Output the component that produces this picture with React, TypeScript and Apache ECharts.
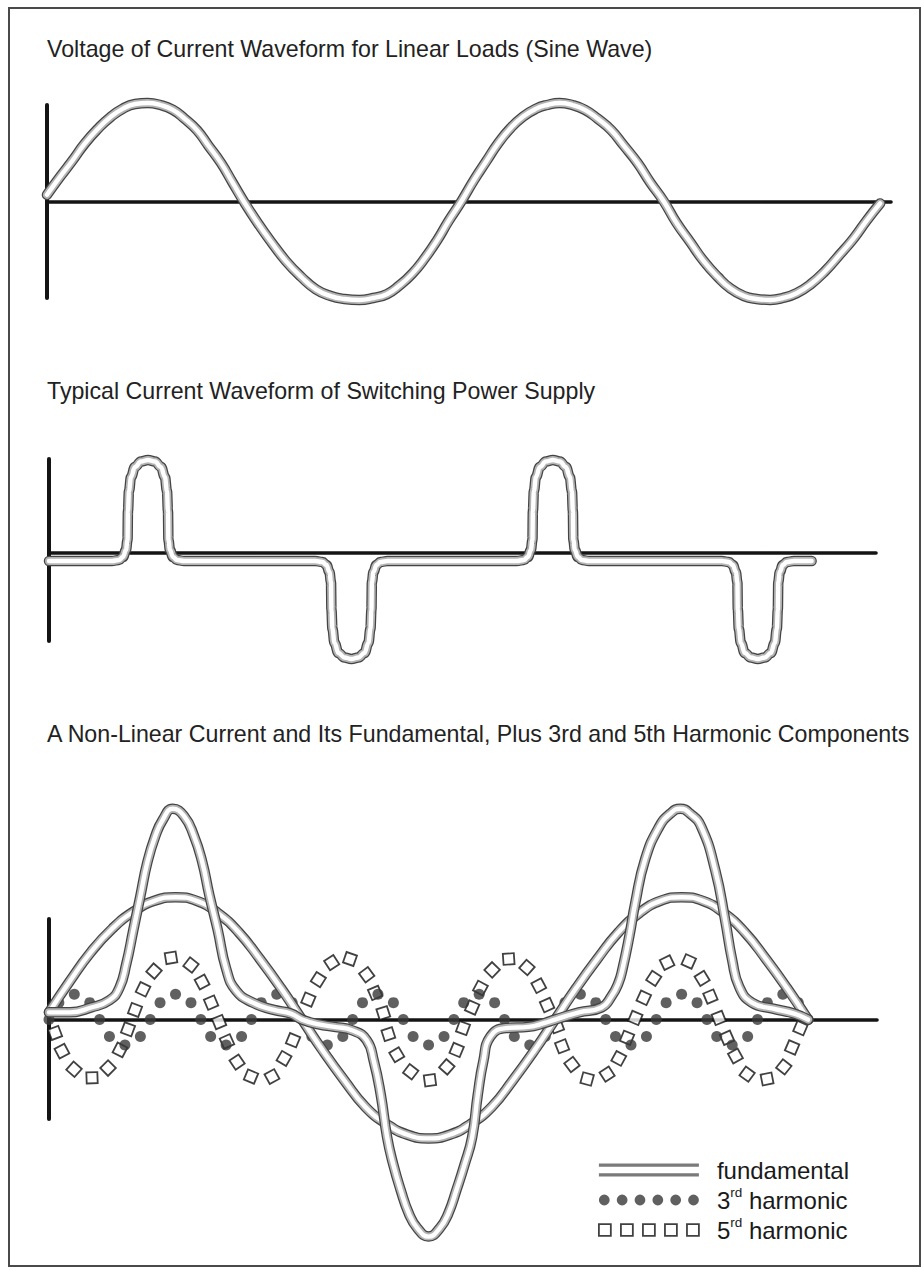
import React, { useEffect, useRef } from 'react';
import * as echarts from 'echarts';

const FONT = "'Liberation Sans', Arial, Helvetica, sans-serif";

// ---------- titles ----------
const panelTitles = [
  'Voltage of Current Waveform for Linear Loads (Sine Wave)',
  'Typical Current Waveform of Switching Power Supply',
  'A Non-Linear Current and Its Fundamental, Plus 3rd and 5th Harmonic Components',
];

// ---------- panel 1 : sine wave (angle in degrees, amplitude) ----------
const sineAngle = [0, 11, 22, 33, 45, 55, 66, 77, 88, 99, 110, 120, 131, 141, 152, 162, 172, 184, 196, 209, 222, 235, 248, 260, 273, 285, 297, 308, 319, 330, 341, 351, 362, 373, 384, 394, 405, 416, 427, 437, 448, 459, 470, 481, 493, 504, 516, 527, 539, 550, 562, 574, 586, 597, 609, 620, 632, 643, 655, 667, 680, 692, 705, 716, 728];
const sineValue = [0.07, 0.25, 0.42, 0.60, 0.76, 0.87, 0.96, 1.01, 1.02, 1.0, 0.95, 0.86, 0.74, 0.58, 0.40, 0.20, 0.0, -0.22, -0.42, -0.62, -0.78, -0.91, -0.98, -1.01, -1.02, -1.0, -0.96, -0.87, -0.75, -0.59, -0.40, -0.20, 0.0, 0.22, 0.42, 0.60, 0.76, 0.88, 0.96, 1.0, 1.02, 1.0, 0.95, 0.86, 0.74, 0.58, 0.40, 0.20, 0.0, -0.22, -0.42, -0.62, -0.78, -0.90, -0.98, -1.01, -1.02, -1.0, -0.95, -0.86, -0.72, -0.56, -0.38, -0.20, -0.02];

// ---------- panel 2 : switching power supply current ----------
const pulseAngle = [
  0,
  55.7, 61.9, 65.5, 68.1, 69.5, 69.9, 70.8, 72.6, 76.1, 81.4, 87.6, 93.8, 99.1, 102.6, 104.4, 105.3, 105.7, 107.1, 109.7, 113.3, 119.5,
  235.8, 242.0, 245.6, 248.2, 249.6, 250.0, 250.9, 252.7, 256.2, 261.5, 267.7, 273.9, 279.2, 282.7, 284.5, 285.4, 285.8, 287.2, 289.8, 293.4, 299.6,
  414.1, 420.3, 423.9, 426.5, 427.9, 428.3, 429.2, 431.0, 434.5, 439.8, 446.0, 452.2, 457.5, 461.0, 462.8, 463.7, 464.1, 465.5, 468.1, 471.7, 477.9,
  595.5, 601.7, 605.3, 607.9, 609.3, 609.7, 610.6, 612.4, 615.9, 621.2, 627.4, 633.6, 638.9, 642.4, 644.2, 645.1, 645.5, 646.9, 649.5, 653.1, 659.3,
  675,
];
const pulseValue = [
  -0.08,
  -0.08, -0.07, -0.04, 0.03, 0.13, 0.42, 0.62, 0.76, 0.86, 0.915, 0.93, 0.915, 0.86, 0.76, 0.62, 0.42, 0.13, 0.03, -0.04, -0.07, -0.08,
  -0.08, -0.09, -0.12, -0.19, -0.29, -0.57, -0.76, -0.90, -1.0, -1.045, -1.06, -1.045, -1.0, -0.90, -0.76, -0.57, -0.29, -0.19, -0.12, -0.09, -0.08,
  -0.08, -0.07, -0.04, 0.03, 0.13, 0.42, 0.62, 0.76, 0.86, 0.915, 0.93, 0.915, 0.86, 0.76, 0.62, 0.42, 0.13, 0.03, -0.04, -0.07, -0.08,
  -0.08, -0.09, -0.12, -0.19, -0.29, -0.57, -0.76, -0.90, -1.0, -1.045, -1.06, -1.045, -1.0, -0.90, -0.76, -0.57, -0.29, -0.19, -0.12, -0.09, -0.08,
  -0.08,
];

// ---------- panel 3 : fundamental ----------
const fundAngle = [0, 15, 30, 45, 60, 75, 90, 105, 120, 135, 150, 165, 180, 195, 210, 225, 240, 255, 270, 285, 300, 315, 330, 345, 360, 375, 390, 405, 420, 435, 450, 465, 480, 495, 510, 525, 540];
const fundValue = [0.06, 0.32, 0.56, 0.75, 0.89, 0.98, 1.01, 0.98, 0.88, 0.72, 0.50, 0.26, 0.0, -0.26, -0.50, -0.72, -0.86, -0.95, -0.98, -0.95, -0.86, -0.72, -0.50, -0.26, 0.0, 0.26, 0.50, 0.72, 0.88, 0.98, 1.01, 0.98, 0.88, 0.72, 0.50, 0.26, 0.0];

// ---------- panel 3 : non-linear current ----------
const nonLinAngle = [0, 15, 30, 43, 50, 55, 60, 65, 70, 75.5, 81, 88, 96, 103, 109, 114, 120, 126, 133, 145, 160, 172, 180, 192, 203, 216, 226, 231, 236, 240.5, 245, 250, 256, 262, 270, 278, 284, 290, 295.5, 301, 305, 309, 314, 325, 341, 352, 360, 377, 393, 400, 405, 408, 413, 417, 424, 434, 442, 449, 456, 464, 474, 481, 486, 491, 500, 515, 530, 540];
const nonLinValue = [0.06, 0.06, 0.10, 0.16, 0.26, 0.46, 0.74, 1.02, 1.30, 1.51, 1.65, 1.74, 1.68, 1.52, 1.30, 1.03, 0.74, 0.42, 0.24, 0.14, 0.08, 0.05, 0.0, -0.04, -0.06, -0.09, -0.17, -0.34, -0.62, -0.97, -1.20, -1.40, -1.60, -1.72, -1.79, -1.72, -1.60, -1.40, -1.20, -0.97, -0.62, -0.34, -0.14, -0.07, -0.06, -0.03, 0.0, 0.06, 0.10, 0.19, 0.30, 0.42, 0.70, 0.96, 1.32, 1.59, 1.70, 1.74, 1.70, 1.59, 1.23, 0.82, 0.49, 0.27, 0.14, 0.09, 0.05, 0.0];

// ---------- panel 3 : dots ("3rd harmonic") ----------
const dotsAngle = [
  0, 7, 18, 29, 36, 43, 54, 65,
  72, 79, 90, 101, 108, 115, 126, 137,
  144, 151, 162, 173, 180, 187, 198, 209,
  216, 223, 234, 245, 252, 259, 270, 281,
  288, 295, 306, 317, 324, 331, 342, 353,
  360, 367, 378, 389, 396, 403, 414, 425,
  432, 439, 450, 461, 468, 475, 486, 497,
  504, 511, 522, 533, 540,
];
const dotsValue = [
  0, 0.14, 0.21, 0.14, 0, -0.14, -0.21, -0.14,
  0, 0.14, 0.21, 0.14, 0, -0.14, -0.21, -0.14,
  0, 0.14, 0.21, 0.14, 0, -0.14, -0.21, -0.14,
  0, 0.14, 0.21, 0.14, 0, -0.14, -0.21, -0.14,
  0, 0.14, 0.21, 0.14, 0, -0.14, -0.21, -0.14,
  0, 0.14, 0.21, 0.14, 0, -0.14, -0.21, -0.14,
  0, 0.14, 0.21, 0.14, 0, -0.14, -0.21, -0.14,
  0, 0.14, 0.21, 0.14, 0,
];

// ---------- panel 3 : open squares ("5rd harmonic") ----------
const squaresAngle = [4.3, 9.2, 17.8, 30.6, 42, 50.5, 56.2, 61.2, 66.9, 74.7, 86.8, 101, 108.9, 115.3, 121, 126.6, 133.8, 143.7, 158.6, 167.2, 173.6, 184.5, 191.6, 201.1, 214.1, 226, 232, 237.8, 241.4, 247.4, 257.3, 271, 283, 290, 294.5, 301, 306.9, 315.2, 327, 340, 348.4, 354.3, 361.4, 365, 372, 382.8, 397, 405.3, 411.2, 417.1, 423.1, 430.2, 439.7, 455.1, 464.6, 470.5, 476.4, 482.3, 488.3, 496.6, 510.8, 522.7, 528.6, 534.5];
const squaresValue = [-0.11, -0.26, -0.41, -0.48, -0.40, -0.25, -0.08, 0.08, 0.25, 0.40, 0.51, 0.45, 0.31, 0.14, -0.02, -0.18, -0.35, -0.47, -0.47, -0.32, -0.17, 0.165, 0.33, 0.47, 0.50, 0.37, 0.22, 0.055, -0.12, -0.29, -0.43, -0.50, -0.39, -0.25, -0.07, 0.10, 0.26, 0.41, 0.50, 0.43, 0.28, 0.12, -0.055, -0.22, -0.37, -0.49, -0.45, -0.32, -0.15, 0.014, 0.18, 0.34, 0.47, 0.48, 0.34, 0.19, 0.014, -0.15, -0.30, -0.45, -0.49, -0.39, -0.23, -0.07];

// ---------- legend ----------
const legendNames = ['fundamental', '3rd harmonic', '5rd harmonic'];

const zip = (xs: number[], ys: number[]) => xs.map((x, i) => [x, ys[i]]);

// Layout
const GRIDS = [
  { left: 47, top: 105, width: 844, height: 193, xMax: 737.5, yMin: -1, yMax: 1 },
  { left: 49, top: 459, width: 827, height: 182, xMax: 732, yMin: -0.88, yMax: 0.94 },
  { left: 49, top: 919, width: 828, height: 200, xMax: 589, yMin: -0.82, yMax: 0.83 },
];
const TITLE_TOPS = [37, 379, 722];

const LAYERS = [
  { width: 10.5, color: '#444444' },
  { width: 8, color: '#b4b4b4' },
  { width: 4.4, color: '#ffffff' },
];

function doubleLine(name: string, data: number[][], gi: number, smooth: number, monotone: string) {
  return LAYERS.map((l, i) => ({
    type: 'line',
    name: i === 0 ? name : `${name} layer ${i}`,
    xAxisIndex: gi,
    yAxisIndex: gi,
    data,
    smooth,
    smoothMonotone: monotone,
    symbol: 'none',
    showSymbol: false,
    clip: false,
    silent: true,
    z: 4,
    lineStyle: { width: l.width, color: l.color, cap: 'round', join: 'round' },
    itemStyle: { color: LAYERS[0].color },
    emphasis: { disabled: true },
  }));
}

function tangentDeg(xs: number[], ys: number[], i: number, g: typeof GRIDS[number]) {
  const a = Math.max(0, i - 1);
  const b = Math.min(xs.length - 1, i + 1);
  const pxX = g.width / g.xMax;
  const pxY = g.height / (g.yMax - g.yMin);
  return (Math.atan2((ys[b] - ys[a]) * pxY, (xs[b] - xs[a]) * pxX) * 180) / Math.PI;
}

function circlePath(cx: number, cy: number, r: number) {
  return `M${cx - r},${cy} A${r},${r} 0 1 1 ${cx + r},${cy} A${r},${r} 0 1 1 ${cx - r},${cy} Z`;
}
function squarePath(x: number, s: number) {
  return `M${x},0 L${x + s},0 L${x + s},${s} L${x},${s} Z`;
}
const ICON_DOUBLE = 'path://M0,0 L98,0 L98,3.2 L0,3.2 Z M0,9.4 L98,9.4 L98,12.6 L0,12.6 Z';
const ICON_DOTS = 'path://' + [0, 1, 2, 3, 4, 5].map((k) => circlePath(5.4 + 17.9 * k, 5.4, 5.4)).join(' ');
const ICON_SQUARES = 'path://' + [0, 1, 2, 3, 4].map((k) => squarePath(21.4 * k, 11.6)).join(' ');

function buildOption() {
  const g3 = GRIDS[2];
  const squaresData = squaresAngle.map((x, i) => ({
    value: [x, squaresValue[i]],
    symbolRotate: tangentDeg(squaresAngle, squaresValue, i, g3),
  }));

  return {
    animation: false,
    backgroundColor: '#ffffff',
    title: panelTitles.map((t, i) => ({
      text: t,
      left: 47,
      top: TITLE_TOPS[i],
      padding: 0,
      textStyle: { fontFamily: FONT, fontSize: 23.2, fontWeight: 'normal', color: '#222222' },
    })),
    grid: GRIDS.map((g) => ({ left: g.left, top: g.top, width: g.width, height: g.height, containLabel: false })),
    xAxis: GRIDS.map((g, i) => ({
      type: 'value',
      gridIndex: i,
      min: 0,
      max: g.xMax,
      axisLine: { show: true, onZero: true, lineStyle: { color: '#141414', width: 3.6 } },
      axisTick: { show: false },
      axisLabel: { show: false },
      splitLine: { show: false },
    })),
    yAxis: GRIDS.map((g, i) => ({
      type: 'value',
      gridIndex: i,
      min: g.yMin,
      max: g.yMax,
      axisLine: { show: true, onZero: true, lineStyle: { color: '#141414', width: 4 } },
      axisTick: { show: false },
      axisLabel: { show: false },
      splitLine: { show: false },
    })),
    legend: {
      orient: 'vertical',
      left: 598,
      top: 1155,
      padding: 0,
      itemGap: 0,
      itemWidth: 100,
      itemHeight: 13,
      selectedMode: false,
      textStyle: {
        fontFamily: FONT,
        fontSize: 24,
        color: '#1a1a1a',
        lineHeight: 30,
        padding: [0, 0, 0, 13],
        rich: {
          n: { fontFamily: FONT, fontSize: 24, color: '#1a1a1a', lineHeight: 30 },
          s: { fontFamily: FONT, fontSize: 13.5, color: '#1a1a1a', lineHeight: 27, verticalAlign: 'top' },
        },
      },
      formatter: (name: string) => {
        if (name === legendNames[1]) return '{n|3}{s|rd}{n| harmonic}';
        if (name === legendNames[2]) return '{n|5}{s|rd}{n| harmonic}';
        return name;
      },
      data: [
        { name: legendNames[0], icon: ICON_DOUBLE, itemStyle: { color: '#7a7a7a', borderWidth: 0 } },
        { name: legendNames[1], icon: ICON_DOTS, itemStyle: { color: '#383838', borderWidth: 0 } },
        { name: legendNames[2], icon: ICON_SQUARES, itemStyle: { color: '#ffffff', borderColor: '#111111', borderWidth: 1.8 } },
      ],
    },
    graphic: [
      {
        type: 'rect',
        silent: true,
        shape: { x: 9, y: 8, width: 911, height: 1258 },
        style: { fill: 'none', stroke: '#4a4a4a', lineWidth: 2 },
      },
    ],
    series: [
      ...doubleLine('sine wave', zip(sineAngle, sineValue), 0, 0.5, 'none'),
      ...doubleLine('switching current', zip(pulseAngle, pulseValue), 1, 0.4, 'x'),
      {
        type: 'scatter',
        name: legendNames[2],
        xAxisIndex: 2,
        yAxisIndex: 2,
        symbol: 'rect',
        symbolSize: 11,
        clip: false,
        silent: true,
        z: 2,
        data: squaresData,
        itemStyle: { color: '#ffffff', borderColor: '#111111', borderWidth: 1.8 },
      },
      {
        type: 'scatter',
        name: legendNames[1],
        xAxisIndex: 2,
        yAxisIndex: 2,
        symbol: 'circle',
        symbolSize: 11,
        clip: false,
        silent: true,
        z: 3,
        data: zip(dotsAngle, dotsValue),
        itemStyle: { color: '#383838' },
      },
      ...doubleLine(legendNames[0], zip(fundAngle, fundValue), 2, 0.5, 'none'),
      ...doubleLine('non-linear current', zip(nonLinAngle, nonLinValue), 2, 0.5, 'none'),
    ],
  };
}

export default function App() {
  const ref = useRef<HTMLDivElement>(null);
  useEffect(() => {
    if (!ref.current) return;
    const chart = echarts.init(ref.current, null, { renderer: 'svg' });
    chart.setOption(buildOption() as any);
    return () => chart.dispose();
  }, []);
  return (
    <div
      ref={ref}
      style={{ position: 'absolute', left: 0, top: 0, width: 924, height: 1270, background: '#ffffff' }}
    />
  );
}
